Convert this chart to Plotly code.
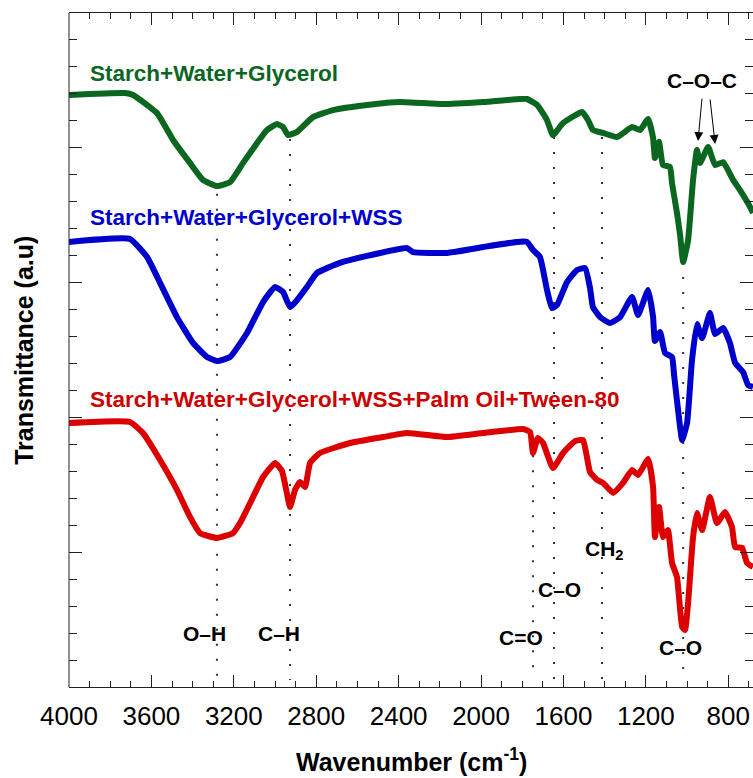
import plotly.graph_objects as go

# ---------------- data ----------------
green_wn = [4000, 3728, 3689, 3573, 3495, 3413, 3350, 3282, 3218, 3155, 3087, 3039, 2990, 2961, 2937, 2893,
            2816, 2719, 2553, 2393, 2185, 1990, 1811, 1777, 1728, 1680, 1651, 1602, 1510, 1481, 1457, 1408,
            1340, 1267, 1228, 1189, 1165, 1156, 1136, 1117, 1083, 1073, 1049, 1034, 1019, 995, 971, 952,
            937, 898, 864, 825, 777, 743, 694, 680]
green_t = [21.96, 22.03, 21.96, 21.29, 20.29, 19.44, 18.81, 18.58, 18.73, 19.44, 20.18, 20.66, 20.88, 20.77, 20.47, 20.59,
           21.14, 21.40, 21.59, 21.70, 21.62, 21.70, 21.81, 21.81, 21.59, 21.03, 20.47, 20.92, 21.33, 21.03, 20.66, 20.55,
           20.40, 20.77, 20.66, 21.07, 20.36, 19.62, 20.22, 19.36, 19.29, 18.69, 17.58, 16.77, 15.76, 16.58, 18.81, 19.92,
           19.44, 20.03, 19.36, 19.47, 18.81, 18.43, 17.80, 17.58]

blue_wn = [4000, 3704, 3621, 3558, 3476, 3398, 3330, 3282, 3218, 3136, 3058, 3000, 2961, 2927, 2893, 2845,
           2796, 2685, 2553, 2359, 2330, 2165, 1990, 1825, 1777, 1748, 1714, 1680, 1656, 1631, 1583, 1534,
           1495, 1471, 1457, 1422, 1374, 1325, 1267, 1238, 1189, 1165, 1156, 1131, 1107, 1073, 1063, 1034,
           1024, 1000, 976, 952, 927, 889, 864, 825, 792, 767, 728, 704, 680]
blue_t = [16.51, 16.62, 15.95, 14.99, 13.72, 12.76, 12.24, 12.09, 12.24, 13.13, 14.28, 14.84, 14.65, 14.09, 14.35, 14.84,
          15.36, 15.73, 15.99, 16.28, 16.13, 16.10, 16.32, 16.51, 16.51, 16.21, 15.95, 14.73, 14.06, 14.17, 15.02, 15.47,
          15.54, 14.80, 14.09, 13.72, 13.50, 13.72, 14.47, 13.80, 14.73, 13.72, 12.83, 13.17, 12.39, 12.24, 11.57, 9.64,
          9.16, 9.79, 12.13, 13.46, 12.94, 13.87, 13.09, 13.32, 12.76, 12.02, 11.68, 11.20, 11.13]

red_wn = [4000, 3704, 3641, 3558, 3476, 3413, 3364, 3282, 3204, 3170, 3121, 3058, 3000, 2966, 2927, 2903,
          2879, 2854, 2830, 2782, 2636, 2476, 2359, 2165, 1990, 1796, 1762, 1748, 1724, 1699, 1651, 1602,
          1544, 1505, 1471, 1437, 1408, 1359, 1311, 1267, 1238, 1189, 1165, 1156, 1136, 1117, 1093, 1073,
          1049, 1024, 1010, 995, 971, 952, 927, 889, 855, 816, 782, 767, 733, 709, 680]
red_t = [9.79, 9.83, 9.42, 8.42, 7.31, 6.31, 5.71, 5.53, 5.71, 6.08, 6.82, 7.79, 8.31, 8.01, 6.68, 7.31,
         7.60, 7.42, 8.31, 8.68, 9.05, 9.27, 9.42, 9.27, 9.42, 9.57, 9.46, 8.68, 9.24, 9.05, 8.12, 8.68,
         9.12, 9.16, 7.97, 7.68, 7.57, 7.20, 7.57, 8.05, 7.86, 8.46, 7.42, 5.56, 6.68, 5.56, 5.82, 4.60,
         4.08, 2.23, 2.11, 3.12, 5.56, 6.45, 5.82, 7.05, 6.08, 6.49, 5.93, 5.19, 5.16, 4.60, 4.45]

series_names = ["Starch+Water+Glycerol", "Starch+Water+Glycerol+WSS",
                "Starch+Water+Glycerol+WSS+Palm Oil+Tween-80"]
series_colors = ["#0b661f", "#0000cc", "#dd0000"]
label_colors = ["#0b661f", "#0000cc", "#cc0000"]
label_y = [22.77, 17.40, 10.65]

# band marker lines: wavenumber, top (a.u.), label, label x, label y
band_wn = [3282, 2927, 1748, 1646, 1413, 1019]
band_top = [18.3, 20.33, 8.6, 20.4, 20.4, 15.76]
band_labels = ["O\u2013H", "C\u2013H", "C=O", "C\u2013O", "CH<sub>2</sub>", "C\u2013O"]
band_label_x = [3340, 2981, 1806, 1617, 1505, 1034]
band_label_y = [2.0, 2.0, 1.85, 3.6, 5.1, 1.45]
band_label_anchor = ["center", "center", "center", "center", "left", "center"]

xticks = [4000, 3600, 3200, 2800, 2400, 2000, 1600, 1200, 800]

FONT = "Liberation Sans, Arial, sans-serif"

fig = go.Figure()

for wn, top in zip(band_wn, band_top):
    fig.add_trace(go.Scatter(x=[wn, wn], y=[top, 0.26], mode="lines",
                             line=dict(color="#333333", width=2, dash="2px,13px"),
                             hoverinfo="skip", showlegend=False))

for wn, t, c, n in zip([green_wn, blue_wn, red_wn], [green_t, blue_t, red_t], series_colors, series_names):
    fig.add_trace(go.Scatter(x=wn, y=t, mode="lines", name=n,
                             line=dict(color=c, width=6, shape="spline", smoothing=0.4),
                             showlegend=False))

annotations = []
for n, c, yv in zip(series_names, label_colors, label_y):
    annotations.append(dict(x=3908, y=yv, xref="x", yref="y", text="<b>%s</b>" % n,
                            showarrow=False, xanchor="left", yanchor="middle",
                            font=dict(family=FONT, size=22.5, color=c)))

for lab, lx, ly, anc in zip(band_labels, band_label_x, band_label_y, band_label_anchor):
    annotations.append(dict(x=lx, y=ly, xref="x", yref="y", text="<b>%s</b>" % lab,
                            showarrow=False, xanchor=anc, yanchor="middle",
                            font=dict(family=FONT, size=21, color="black")))

annotations.append(dict(x=927, y=22.51, xref="x", yref="y", text="<b>C\u2013O\u2013C</b>",
                        showarrow=False, xanchor="center", yanchor="middle",
                        font=dict(family=FONT, size=21, color="black")))
# arrows
for hx, hy, tx, ty in [(947, 20.25, 927, 21.88), (864, 20.14, 889, 21.85)]:
    annotations.append(dict(x=hx, y=hy, ax=tx, ay=ty, xref="x", yref="y", axref="x", ayref="y",
                            text="", showarrow=True, arrowhead=2, arrowsize=1.8, arrowwidth=1,
                            arrowcolor="black"))

# axis titles
annotations.append(dict(x=0.5, y=-0.108, xref="paper", yref="paper",
                        text="<b>Wavenumber (cm<sup>-1</sup>)</b>", showarrow=False,
                        xanchor="center", yanchor="middle",
                        font=dict(family=FONT, size=25, color="black")))
annotations.append(dict(x=-0.066, y=0.5, xref="paper", yref="paper",
                        text="<b>Transmittance (a.u)</b>", showarrow=False, textangle=-90,
                        xanchor="center", yanchor="middle",
                        font=dict(family=FONT, size=25, color="black")))

fig.update_layout(
    width=753, height=778,
    margin=dict(l=69, r=0, t=13, b=91),
    paper_bgcolor="white", plot_bgcolor="white",
    showlegend=False,
    annotations=annotations,
    shapes=[dict(type="line", xref="paper", yref="paper", x0=0, x1=0, y0=0, y1=1,
                 line=dict(color="#222222", width=1))],
    xaxis=dict(range=[4000, 680], tickmode="array", tickvals=xticks,
               ticktext=[str(v) for v in xticks],
               ticks="inside", ticklen=12, tickwidth=1, tickcolor="#222222",
               minor=dict(ticks="inside", ticklen=6, dtick=100, tick0=4000, tickcolor="#222222"),
               showline=True, linecolor="#222222", linewidth=1, mirror="ticks",
               showgrid=False, zeroline=False, ticklabelstandoff=6,
               tickfont=dict(family=FONT, size=26, color="black")),
    yaxis=dict(range=[0, 25], dtick=5, tick0=0, ticks="inside", ticklen=13, tickwidth=1,
               tickcolor="#222222",
               minor=dict(ticks="inside", ticklen=8, dtick=1, tick0=0, tickcolor="#222222"),
               showline=False, mirror="ticks", showgrid=False, zeroline=False,
               showticklabels=False),
)

fig.write_html("out.html")
